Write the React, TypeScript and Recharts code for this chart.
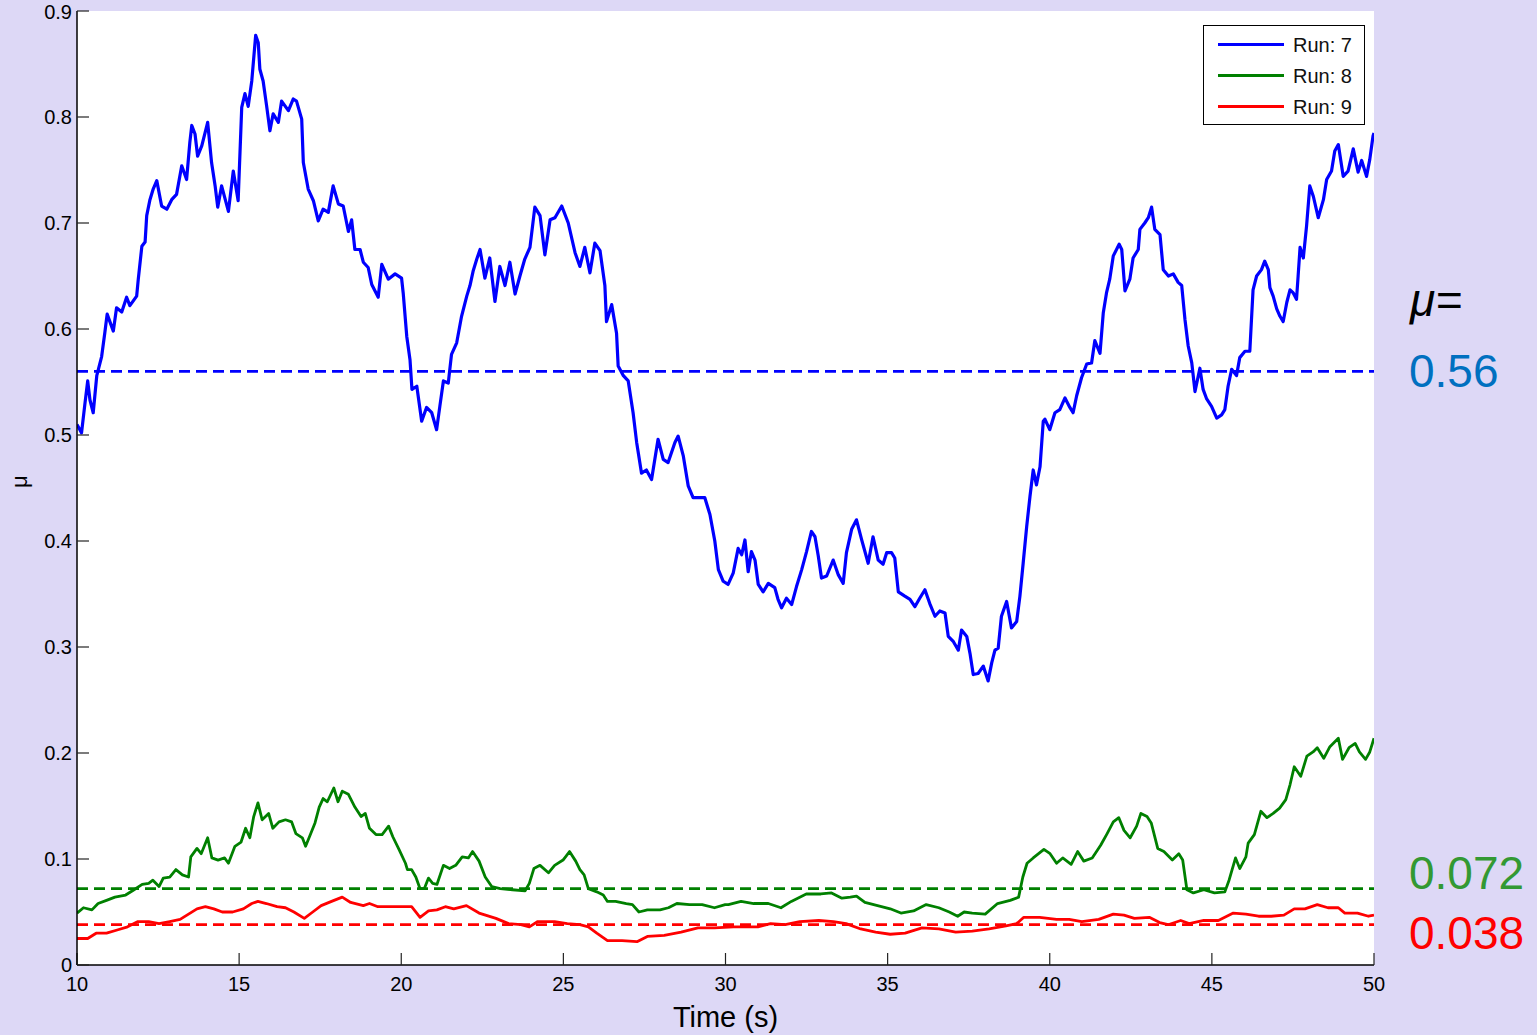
import { LineChart, Line, XAxis, YAxis, CartesianGrid, ReferenceLine } from 'recharts';

// time (s), mu
const RUN_7: [number, number][] = [
  [10.0, 0.51], [10.14, 0.502], [10.25, 0.531], [10.33, 0.551], [10.4, 0.533], [10.5, 0.521], [10.61, 0.556],
  [10.76, 0.574], [10.86, 0.597], [10.93, 0.614], [11.12, 0.598], [11.22, 0.62], [11.38, 0.616], [11.53, 0.63],
  [11.63, 0.622], [11.84, 0.631], [11.89, 0.647], [12.0, 0.678], [12.1, 0.682], [12.15, 0.707], [12.25, 0.722],
  [12.35, 0.732], [12.46, 0.74], [12.61, 0.716], [12.77, 0.713], [12.92, 0.722], [13.07, 0.727], [13.23, 0.754],
  [13.38, 0.741], [13.48, 0.776], [13.54, 0.792], [13.64, 0.784], [13.72, 0.763], [13.85, 0.773], [14.03, 0.795],
  [14.15, 0.757], [14.26, 0.735], [14.34, 0.715], [14.46, 0.735], [14.67, 0.711], [14.82, 0.749], [14.97, 0.721],
  [15.08, 0.809], [15.18, 0.822], [15.28, 0.81], [15.39, 0.834], [15.51, 0.877], [15.59, 0.87], [15.64, 0.845],
  [15.74, 0.834], [15.85, 0.81], [15.95, 0.787], [16.05, 0.803], [16.21, 0.795], [16.31, 0.815], [16.52, 0.806],
  [16.67, 0.817], [16.77, 0.815], [16.93, 0.798], [16.98, 0.757], [17.13, 0.732], [17.29, 0.721], [17.44, 0.702],
  [17.59, 0.713], [17.75, 0.71], [17.9, 0.735], [18.06, 0.718], [18.21, 0.716], [18.37, 0.692], [18.47, 0.703],
  [18.57, 0.675], [18.73, 0.675], [18.83, 0.663], [18.98, 0.658], [19.09, 0.642], [19.29, 0.63], [19.4, 0.661],
  [19.6, 0.647], [19.81, 0.652], [20.01, 0.648], [20.06, 0.634], [20.17, 0.593], [20.27, 0.571], [20.33, 0.543],
  [20.48, 0.546], [20.63, 0.513], [20.78, 0.526], [20.94, 0.521], [21.09, 0.505], [21.19, 0.527], [21.3, 0.551],
  [21.45, 0.549], [21.55, 0.576], [21.71, 0.587], [21.86, 0.612], [22.02, 0.631], [22.12, 0.641], [22.22, 0.655],
  [22.33, 0.666], [22.43, 0.675], [22.58, 0.648], [22.73, 0.667], [22.89, 0.626], [23.04, 0.659], [23.2, 0.641],
  [23.35, 0.663], [23.51, 0.633], [23.66, 0.65], [23.81, 0.666], [23.97, 0.677], [24.12, 0.715], [24.28, 0.707],
  [24.43, 0.67], [24.59, 0.703], [24.74, 0.705], [24.95, 0.716], [25.15, 0.7], [25.36, 0.672], [25.51, 0.659],
  [25.66, 0.677], [25.82, 0.653], [25.97, 0.681], [26.13, 0.674], [26.28, 0.641], [26.33, 0.607], [26.49, 0.623],
  [26.64, 0.596], [26.69, 0.565], [26.85, 0.556], [27.0, 0.551], [27.15, 0.521], [27.26, 0.493], [27.41, 0.464],
  [27.56, 0.467], [27.72, 0.458], [27.92, 0.496], [28.08, 0.477], [28.23, 0.474], [28.44, 0.493], [28.54, 0.499],
  [28.7, 0.48], [28.85, 0.452], [29.0, 0.441], [29.36, 0.441], [29.52, 0.425], [29.67, 0.4], [29.78, 0.373],
  [29.93, 0.362], [30.08, 0.359], [30.24, 0.37], [30.39, 0.393], [30.5, 0.387], [30.6, 0.401], [30.7, 0.371],
  [30.8, 0.39], [30.91, 0.382], [31.01, 0.359], [31.16, 0.352], [31.32, 0.36], [31.52, 0.356], [31.62, 0.345],
  [31.73, 0.337], [31.88, 0.346], [32.04, 0.34], [32.19, 0.357], [32.35, 0.373], [32.5, 0.39], [32.65, 0.409],
  [32.76, 0.404], [32.86, 0.386], [32.96, 0.365], [33.12, 0.367], [33.32, 0.382], [33.48, 0.368], [33.63, 0.36],
  [33.73, 0.389], [33.89, 0.411], [34.04, 0.42], [34.2, 0.401], [34.4, 0.379], [34.55, 0.404], [34.71, 0.382],
  [34.86, 0.378], [34.97, 0.389], [35.12, 0.389], [35.22, 0.384], [35.33, 0.352], [35.53, 0.348], [35.69, 0.345],
  [35.84, 0.338], [35.99, 0.346], [36.15, 0.354], [36.3, 0.341], [36.46, 0.329], [36.61, 0.334], [36.77, 0.332],
  [36.87, 0.31], [37.03, 0.305], [37.18, 0.297], [37.28, 0.316], [37.44, 0.31], [37.54, 0.294], [37.64, 0.274],
  [37.79, 0.275], [37.95, 0.282], [38.1, 0.268], [38.21, 0.285], [38.31, 0.297], [38.41, 0.299], [38.51, 0.329],
  [38.67, 0.343], [38.82, 0.318], [38.98, 0.324], [39.08, 0.348], [39.18, 0.379], [39.29, 0.414], [39.39, 0.442],
  [39.49, 0.467], [39.59, 0.453], [39.7, 0.47], [39.8, 0.513], [39.85, 0.515], [40.0, 0.505], [40.16, 0.521],
  [40.31, 0.524], [40.47, 0.535], [40.62, 0.526], [40.72, 0.521], [40.83, 0.537], [40.98, 0.554], [41.14, 0.567],
  [41.29, 0.568], [41.39, 0.589], [41.55, 0.577], [41.65, 0.615], [41.75, 0.634], [41.85, 0.647], [41.96, 0.669],
  [42.14, 0.68], [42.22, 0.675], [42.32, 0.636], [42.47, 0.647], [42.57, 0.667], [42.73, 0.675], [42.78, 0.694],
  [42.93, 0.7], [43.04, 0.705], [43.14, 0.715], [43.24, 0.694], [43.4, 0.689], [43.5, 0.656], [43.66, 0.65],
  [43.81, 0.652], [43.96, 0.644], [44.07, 0.641], [44.17, 0.609], [44.27, 0.584], [44.38, 0.568], [44.48, 0.541],
  [44.63, 0.563], [44.73, 0.543], [44.84, 0.534], [44.99, 0.527], [45.15, 0.516], [45.3, 0.519], [45.4, 0.524],
  [45.5, 0.546], [45.61, 0.562], [45.76, 0.556], [45.86, 0.573], [46.02, 0.579], [46.17, 0.579], [46.27, 0.637],
  [46.38, 0.65], [46.53, 0.656], [46.63, 0.664], [46.74, 0.656], [46.79, 0.639], [46.89, 0.631], [47.0, 0.619],
  [47.1, 0.612], [47.2, 0.607], [47.31, 0.625], [47.41, 0.637], [47.51, 0.634], [47.61, 0.628], [47.66, 0.65],
  [47.72, 0.677], [47.82, 0.667], [47.92, 0.697], [48.02, 0.735], [48.13, 0.725], [48.28, 0.705], [48.44, 0.722],
  [48.54, 0.741], [48.69, 0.749], [48.79, 0.768], [48.9, 0.774], [49.05, 0.744], [49.2, 0.749], [49.36, 0.77],
  [49.51, 0.748], [49.62, 0.759], [49.77, 0.744], [49.87, 0.76], [49.97, 0.782], [50.0, 0.785],
];

const RUN_8: [number, number][] = [
  [10.0, 0.049], [10.2, 0.054], [10.46, 0.052], [10.65, 0.058], [10.91, 0.061], [11.17, 0.064], [11.5, 0.066],
  [11.76, 0.071], [12.01, 0.076], [12.21, 0.077], [12.34, 0.08], [12.53, 0.074], [12.66, 0.082], [12.86, 0.083],
  [13.05, 0.09], [13.25, 0.085], [13.44, 0.083], [13.51, 0.102], [13.7, 0.11], [13.83, 0.105], [14.03, 0.12],
  [14.16, 0.101], [14.35, 0.099], [14.55, 0.101], [14.67, 0.096], [14.87, 0.112], [15.06, 0.116], [15.2, 0.129],
  [15.33, 0.12], [15.45, 0.14], [15.58, 0.153], [15.71, 0.137], [15.91, 0.143], [16.04, 0.129], [16.23, 0.135],
  [16.43, 0.137], [16.62, 0.135], [16.75, 0.124], [16.95, 0.12], [17.05, 0.112], [17.21, 0.124], [17.34, 0.134],
  [17.47, 0.149], [17.59, 0.157], [17.72, 0.154], [17.92, 0.167], [18.05, 0.154], [18.18, 0.164], [18.37, 0.161],
  [18.57, 0.149], [18.76, 0.14], [18.89, 0.143], [19.02, 0.129], [19.22, 0.123], [19.41, 0.123], [19.61, 0.131],
  [19.74, 0.121], [19.93, 0.109], [20.13, 0.096], [20.19, 0.09], [20.32, 0.09], [20.45, 0.083], [20.58, 0.072],
  [20.71, 0.072], [20.84, 0.082], [20.97, 0.077], [21.1, 0.076], [21.3, 0.094], [21.49, 0.091], [21.68, 0.094],
  [21.88, 0.102], [22.07, 0.101], [22.2, 0.107], [22.4, 0.098], [22.59, 0.083], [22.79, 0.074], [23.05, 0.072],
  [23.43, 0.071], [23.82, 0.07], [23.95, 0.077], [24.09, 0.091], [24.28, 0.094], [24.54, 0.087], [24.73, 0.094],
  [24.99, 0.099], [25.19, 0.107], [25.38, 0.098], [25.51, 0.09], [25.64, 0.085], [25.77, 0.072], [26.03, 0.069],
  [26.23, 0.066], [26.36, 0.06], [26.61, 0.06], [26.94, 0.058], [27.13, 0.057], [27.33, 0.05], [27.59, 0.052],
  [27.98, 0.052], [28.24, 0.054], [28.5, 0.058], [28.89, 0.057], [29.28, 0.057], [29.66, 0.054], [29.99, 0.057],
  [30.09, 0.057], [30.48, 0.06], [30.87, 0.058], [31.32, 0.058], [31.71, 0.054], [32.03, 0.06], [32.49, 0.067],
  [32.94, 0.067], [33.27, 0.068], [33.59, 0.063], [33.85, 0.064], [34.04, 0.065], [34.3, 0.059], [34.69, 0.056],
  [35.08, 0.053], [35.41, 0.049], [35.8, 0.051], [36.19, 0.057], [36.58, 0.054], [36.9, 0.05], [37.16, 0.046],
  [37.36, 0.05], [37.61, 0.049], [38.01, 0.048], [38.39, 0.058], [38.78, 0.061], [39.04, 0.064], [39.17, 0.083],
  [39.3, 0.096], [39.49, 0.101], [39.82, 0.109], [40.01, 0.105], [40.21, 0.096], [40.4, 0.101], [40.66, 0.095],
  [40.86, 0.107], [41.05, 0.098], [41.31, 0.101], [41.57, 0.113], [41.77, 0.124], [41.96, 0.135], [42.13, 0.139],
  [42.29, 0.127], [42.48, 0.12], [42.68, 0.131], [42.81, 0.143], [43.0, 0.14], [43.13, 0.134], [43.33, 0.11],
  [43.52, 0.107], [43.78, 0.099], [43.98, 0.105], [44.1, 0.099], [44.23, 0.071], [44.43, 0.068], [44.75, 0.071],
  [45.08, 0.068], [45.4, 0.069], [45.53, 0.08], [45.73, 0.101], [45.86, 0.091], [46.05, 0.102], [46.12, 0.115],
  [46.31, 0.123], [46.51, 0.145], [46.7, 0.139], [46.89, 0.143], [47.09, 0.148], [47.28, 0.156], [47.41, 0.17],
  [47.54, 0.187], [47.74, 0.178], [47.93, 0.197], [48.12, 0.201], [48.25, 0.205], [48.45, 0.195], [48.64, 0.206],
  [48.9, 0.214], [49.03, 0.194], [49.23, 0.205], [49.42, 0.209], [49.55, 0.201], [49.74, 0.194], [49.87, 0.201],
  [50.0, 0.214],
];

const RUN_9: [number, number][] = [
  [10.0, 0.025], [10.33, 0.025], [10.59, 0.03], [10.91, 0.03], [11.24, 0.033], [11.56, 0.036], [11.88, 0.041],
  [12.21, 0.041], [12.53, 0.039], [12.86, 0.041], [13.18, 0.043], [13.44, 0.048], [13.7, 0.053], [13.96, 0.055],
  [14.22, 0.053], [14.48, 0.05], [14.8, 0.05], [15.13, 0.053], [15.39, 0.058], [15.58, 0.06], [15.84, 0.058],
  [16.17, 0.055], [16.43, 0.054], [16.69, 0.05], [17.01, 0.044], [17.27, 0.05], [17.53, 0.056], [17.85, 0.06],
  [18.18, 0.064], [18.44, 0.059], [18.83, 0.056], [19.02, 0.058], [19.28, 0.055], [19.8, 0.055], [20.32, 0.055],
  [20.58, 0.045], [20.84, 0.051], [21.1, 0.052], [21.36, 0.055], [21.62, 0.053], [22.01, 0.056], [22.4, 0.049],
  [22.92, 0.044], [23.31, 0.039], [23.69, 0.038], [23.95, 0.036], [24.21, 0.041], [24.73, 0.041], [25.12, 0.039],
  [25.51, 0.038], [25.77, 0.036], [26.03, 0.03], [26.36, 0.023], [26.81, 0.023], [27.27, 0.022], [27.59, 0.027],
  [28.11, 0.028], [28.63, 0.031], [29.15, 0.035], [29.66, 0.035], [30.25, 0.036], [31.0, 0.036], [31.39, 0.039],
  [31.84, 0.038], [32.29, 0.041], [32.88, 0.042], [33.33, 0.041], [33.72, 0.039], [34.17, 0.034], [34.63, 0.031],
  [35.08, 0.029], [35.54, 0.03], [36.06, 0.035], [36.58, 0.034], [37.1, 0.031], [37.61, 0.032], [38.13, 0.034],
  [38.65, 0.037], [38.98, 0.039], [39.2, 0.045], [39.69, 0.045], [40.21, 0.043], [40.6, 0.043], [40.99, 0.041],
  [41.51, 0.043], [41.96, 0.048], [42.29, 0.047], [42.61, 0.044], [43.07, 0.045], [43.39, 0.04], [43.65, 0.038],
  [44.04, 0.042], [44.3, 0.039], [44.75, 0.042], [45.2, 0.042], [45.66, 0.049], [46.05, 0.048], [46.44, 0.046],
  [46.83, 0.046], [47.22, 0.047], [47.54, 0.053], [47.87, 0.053], [48.25, 0.057], [48.58, 0.054], [48.9, 0.054],
  [49.1, 0.049], [49.49, 0.049], [49.83, 0.046], [50.0, 0.047],
];

const SERIES_NAMES = ['Run: 7', 'Run: 8', 'Run: 9'];
const LINE_COLORS = ['#0000ff', '#008000', '#ff0000'];
const MEANS = [0.56, 0.072, 0.038];
const MEAN_LABELS = ['0.56', '0.072', '0.038'];
const MEAN_LABEL_COLORS = ['#0070c0', '#339933', '#ff0000'];

const X_TICKS = [10, 15, 20, 25, 30, 35, 40, 45, 50];
const Y_TICKS = [0, 0.1, 0.2, 0.3, 0.4, 0.5, 0.6, 0.7, 0.8, 0.9];

const FONT = 'Arial, "Liberation Sans", Helvetica, sans-serif';

const toPoints = (rows: [number, number][]) => rows.map(([t, v]) => ({ t, v }));
const SERIES = [RUN_7, RUN_8, RUN_9].map(toPoints);

const fmtY = (v: number) => (v === 0 ? '0' : v.toFixed(1));

export default function App() {
  const tickStyle = { fill: '#000', fontSize: 20, fontFamily: FONT };
  const tickLine = { stroke: '#222', strokeWidth: 1.2 };
  return (
    <div style={{ position: 'absolute', left: 0, top: 0, width: 1537, height: 1035, background: '#ddd8f6', fontFamily: FONT }}>
      <LineChart width={1537} height={1035} margin={{ top: 11, right: 163, left: 17, bottom: 0 }}>
        <CartesianGrid horizontal={false} vertical={false} fill="#ffffff" stroke="none" />
        <XAxis
          dataKey="t"
          type="number"
          domain={[10, 50]}
          ticks={X_TICKS}
          allowDataOverflow
          height={70}
          tickSize={-12}
          tickMargin={24}
          tick={tickStyle}
          tickLine={tickLine}
          axisLine={{ stroke: '#000', strokeWidth: 1.5 }}
          label={{ value: 'Time (s)', position: 'insideBottom', offset: 8, fill: '#000', fontSize: 29, fontFamily: FONT }}
        />
        <XAxis
          xAxisId="top"
          orientation="top"
          dataKey="t"
          type="number"
          domain={[10, 50]}
          ticks={X_TICKS}
          height={0}
          tickSize={-12}
          tick={false}
          tickLine={tickLine}
          axisLine={{ stroke: '#000', strokeWidth: 1.5 }}
        />
        <YAxis
          type="number"
          domain={[0, 0.9]}
          ticks={Y_TICKS}
          allowDataOverflow
          width={60}
          tickSize={-12}
          tickMargin={17}
          tickFormatter={fmtY}
          tick={tickStyle}
          tickLine={tickLine}
          axisLine={{ stroke: '#000', strokeWidth: 1.5 }}
          label={{ value: 'μ', angle: -90, position: 'insideLeft', offset: 2, fill: '#000', fontSize: 22, fontFamily: FONT }}
        />
        <YAxis
          yAxisId="right"
          orientation="right"
          type="number"
          domain={[0, 0.9]}
          ticks={Y_TICKS}
          width={0}
          tickSize={-12}
          tick={false}
          tickLine={tickLine}
          axisLine={{ stroke: '#000', strokeWidth: 1.5 }}
        />
        {MEANS.map((m, i) => (
          <ReferenceLine key={`m${i}`} y={m} stroke={LINE_COLORS[i]} strokeWidth={2.8} strokeDasharray="11 6" ifOverflow="extendDomain" />
        ))}
        {SERIES.map((data, i) => (
          <Line
            key={SERIES_NAMES[i]}
            data={data}
            dataKey="v"
            name={SERIES_NAMES[i]}
            type="linear"
            stroke={LINE_COLORS[i]}
            strokeWidth={i === 0 ? 3.2 : 2.8}
            strokeLinejoin="round"
            dot={false}
            activeDot={false}
            isAnimationActive={false}
          />
        ))}
      </LineChart>

      {/* legend box */}
      <div style={{ position: 'absolute', left: 1203, top: 25, width: 160, height: 98, background: '#fff', border: '1px solid #000' }}>
        {SERIES_NAMES.map((name, i) => (
          <div key={name} style={{ position: 'absolute', left: 0, top: 7 + i * 31, height: 24, width: 160 }}>
            <div style={{ position: 'absolute', left: 14, top: 10, width: 66, height: 3, background: LINE_COLORS[i] }} />
            <div style={{ position: 'absolute', left: 89, top: 0, fontSize: 20, lineHeight: '24px', color: '#111' }}>{name}</div>
          </div>
        ))}
      </div>

      {/* mean annotations */}
      <div style={{ position: 'absolute', left: 1410, top: 270, fontSize: 46, fontStyle: 'italic', color: '#000', lineHeight: '60px' }}>μ=</div>
      {MEAN_LABELS.map((txt, i) => (
        <div
          key={txt}
          style={{ position: 'absolute', left: 1409, top: [343, 845, 905][i], fontSize: 46, lineHeight: '56px', color: MEAN_LABEL_COLORS[i] }}
        >
          {txt}
        </div>
      ))}
    </div>
  );
}
